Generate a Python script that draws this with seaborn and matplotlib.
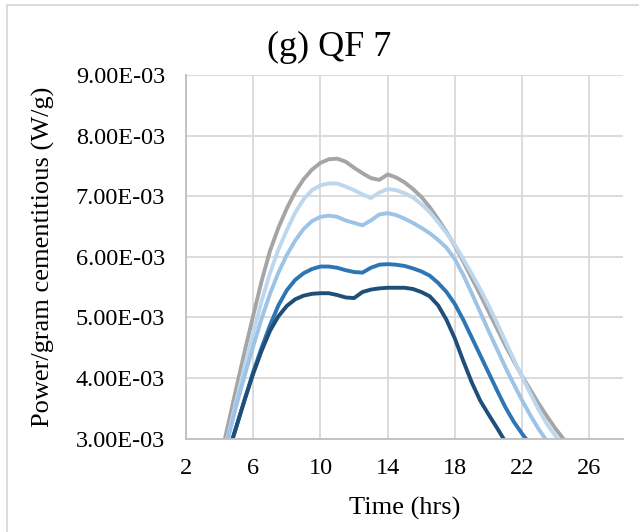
import numpy as np
import pandas as pd
import matplotlib
matplotlib.use("Agg")
import matplotlib.pyplot as plt
from matplotlib.ticker import FuncFormatter
from matplotlib.lines import Line2D
import seaborn as sns

# Heat-flow curves (mW per gram of cementitious material) sampled every half hour
time_hrs = [4.0, 4.5, 5.0, 5.5, 6.0, 6.5, 7.0, 7.5, 8.0, 8.5, 9.0, 9.5, 10.0,
            10.5, 11.0, 11.5, 12.0, 12.5, 13.0, 13.5, 14.0, 14.5, 15.0, 15.5,
            16.0, 16.5, 17.0, 17.5, 18.0, 18.5, 19.0, 19.5, 20.0, 20.5, 21.0,
            21.5, 22.0, 22.5, 23.0, 23.5, 24.0, 24.5, 25.0]

gray_mw = [2.62, 3.22, 3.84, 4.45, 5.03, 5.60, 6.10, 6.48, 6.80, 7.07, 7.28, 7.44, 7.55,
           7.61, 7.62, 7.57, 7.47, 7.38, 7.30, 7.27, 7.36, 7.31, 7.23, 7.12,
           6.99, 6.82, 6.62, 6.41, 6.18, 5.92, 5.65, 5.38, 5.10, 4.82, 4.54,
           4.28, 4.03, 3.80, 3.57, 3.36, 3.16, 2.98, 2.80]

light_mw = [2.55, 3.05, 3.63, 4.20, 4.74, 5.27, 5.73, 6.12, 6.44, 6.73, 6.95, 7.10, 7.18,
            7.21, 7.21, 7.16, 7.10, 7.03, 6.97, 7.06, 7.12, 7.10, 7.05, 6.98,
            6.87, 6.74, 6.57, 6.39, 6.20, 5.96, 5.72, 5.47, 5.20, 4.91, 4.61,
            4.31, 4.02, 3.74, 3.47, 3.23, 3.04, 2.85, 2.70]

medium_mw = [2.45, 3.00, 3.55, 4.05, 4.52, 4.98, 5.39, 5.74, 6.03, 6.27, 6.46, 6.59, 6.66,
             6.68, 6.66, 6.60, 6.56, 6.52, 6.60, 6.70, 6.72, 6.69, 6.63, 6.56,
             6.48, 6.39, 6.28, 6.15, 5.96, 5.70, 5.40, 5.09, 4.78, 4.48, 4.18,
             3.90, 3.63, 3.38, 3.15, 2.95, 2.78, 2.60, 2.45]

blue_mw = [2.30, 2.75, 3.20, 3.65, 4.10, 4.50, 4.87, 5.20, 5.45, 5.62, 5.73, 5.80, 5.84,
           5.84, 5.82, 5.78, 5.75, 5.74, 5.82, 5.87, 5.88, 5.87, 5.85, 5.81,
           5.76, 5.69, 5.57, 5.42, 5.22, 4.96, 4.67, 4.38, 4.09, 3.80, 3.52,
           3.28, 3.08, 2.90, 2.75, 2.60, 2.45, 2.30, 2.20]

dark_mw = [2.30, 2.75, 3.20, 3.65, 4.07, 4.45, 4.78, 5.02, 5.19, 5.30, 5.36, 5.39, 5.40,
           5.40, 5.37, 5.33, 5.32, 5.42, 5.46, 5.48, 5.49, 5.49, 5.49, 5.47,
           5.42, 5.35, 5.20, 4.96, 4.65, 4.28, 3.93, 3.63, 3.40, 3.18, 2.95,
           2.75, 2.60, 2.45, 2.30, 2.20, 2.10, 2.00, 1.90]

series_names = ["S1", "S2", "S3", "S4", "S5"]
series_values = [gray_mw, light_mw, medium_mw, blue_mw, dark_mw]
series_colors = ["#A5A5A5", "#BDD7EE", "#9DC3E6", "#2E75B6", "#1F4E79"]

x_ticks = [2, 6, 10, 14, 18, 22, 26]
y_ticks = [3e-3, 4e-3, 5e-3, 6e-3, 7e-3, 8e-3, 9e-3]

frames = []
for name, vals in zip(series_names, series_values):
    frames.append(pd.DataFrame({"time": time_hrs,
                                "power": np.array(vals) * 1e-3,
                                "series": name}))
df = pd.concat(frames, ignore_index=True)

sns.set_theme(style="white")
plt.rcParams["font.family"] = ["Liberation Serif", "DejaVu Serif"]
plt.rcParams["text.color"] = "black"
plt.rcParams["axes.labelcolor"] = "black"

fig = plt.figure(figsize=(6.39, 5.32), dpi=100)
ax = fig.add_axes([0.291, 0.1754, 0.684, 0.6836])

sns.lineplot(data=df, x="time", y="power", hue="series",
             hue_order=series_names, palette=series_colors,
             linewidth=2.8, legend=False, sort=False, ax=ax,
             solid_joinstyle="round", solid_capstyle="butt")

ax.set_xlim(2, 28)
ax.set_ylim(3e-3, 9e-3)
ax.set_xticks(x_ticks)
ax.set_yticks(y_ticks)
ax.yaxis.set_major_formatter(FuncFormatter(lambda v, p: f"{v:.2E}"))
ax.tick_params(axis="both", length=0, labelsize=17.5, colors="black")
ax.tick_params(axis="y", pad=15)
ax.tick_params(axis="x", pad=14)

ax.grid(True, color="#D9D9D9", linewidth=1.3)
ax.set_axisbelow(True)
for side in ["top", "right"]:
    ax.spines[side].set_visible(False)
for side in ["left", "bottom"]:
    ax.spines[side].set_color("#BFBFBF")
    ax.spines[side].set_linewidth(1.3)

ax.set_xlabel("Time (hrs)", fontsize=19, labelpad=13, color="black")
ax.set_ylabel("Power/gram cementitious (W/g)", fontsize=19, labelpad=15,
              color="black")

fig.text(329 / 639, 1 - 47 / 532, "(g) QF 7", fontsize=26,
         ha="center", va="center", color="black")

# chart-area border
fig.add_artist(Line2D([7 / 639, 7 / 639], [0, 1 - 5 / 532],
                      transform=fig.transFigure, color="#D9D9D9", linewidth=1.3))
fig.add_artist(Line2D([7 / 639, 1], [1 - 5 / 532, 1 - 5 / 532],
                      transform=fig.transFigure, color="#D9D9D9", linewidth=1.3))

fig.savefig("out.png", dpi=100, facecolor="white")
